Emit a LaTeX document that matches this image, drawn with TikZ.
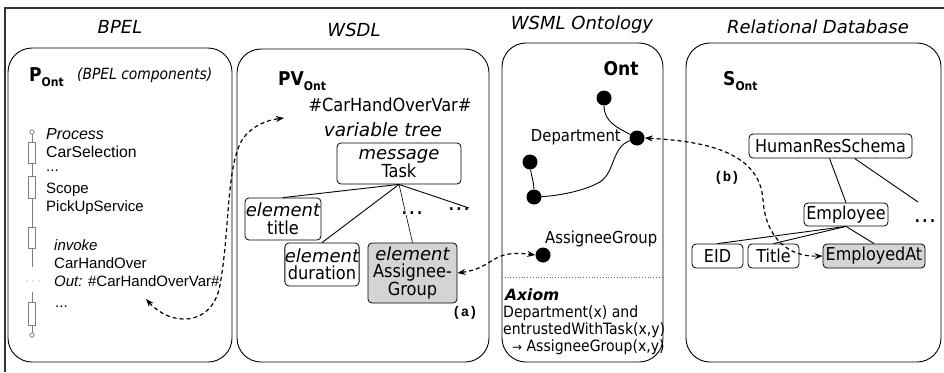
\documentclass[tikz,border=0pt]{standalone}
\usepackage{fontspec}
\setmainfont{DejaVu Sans Condensed}
\newfontfamily\widefont{DejaVu Sans}
\newfontfamily\arialfont{Liberation Sans}
\newfontfamily\codefont{Liberation Mono}
\usetikzlibrary{arrows.meta}
\newcommand\px[1]{\fontsize{#1}{#1}\selectfont}
\newcommand\pxl[2]{\fontsize{#1}{#2}\selectfont}
% italic type label inside a tree box
\newcommand\kind[1]{{\widefont\itshape\px{18}#1}}

\tikzset{
  panel/.style={draw, rounded corners=24pt, line width=0.9pt},
  header/.style={font=\widefont\itshape\px{18}},
  tbox/.style={draw, rounded corners=4pt, line width=0.8pt, inner sep=0pt,
    align=center, font=\pxl{18}{17.5}},
  gbox/.style={tbox, fill=black!17},
  rbox/.style={tbox, font=\px{17.8}},
  bpeltext/.style={anchor=west, inner sep=0pt, font=\arialfont\px{15}},
  ellip/.style={anchor=base west, inner sep=0pt, text height=2pt, text depth=0pt,
    font=\arialfont\px{15}},
  onttext/.style={inner sep=0pt, font=\px{16.5}},
  dotnode/.style={circle, fill=black, inner sep=0pt, minimum size=15pt},
  chain/.style={draw=black!50, line width=0.8pt},
  edge/.style={line width=0.9pt},
  link/.style={line width=1.2pt, dash pattern=on 4pt off 3pt,
    {Stealth[length=8pt,width=6pt]}-{Stealth[length=8pt,width=6pt]}},
  lbl/.style={inner sep=0pt, font=\codefont\bfseries\px{14}},
  sym/.style={anchor=base west, inner sep=0pt, font=\bfseries\px{19}}
}

\begin{document}
\begin{tikzpicture}[x=1pt, y=-1pt]
\useasboundingbox (0,0) rectangle (944,372);

% outer frame
\draw[line width=1.1pt, black!80] (5,372) -- (5,8) -- (944,8);

% column headers
\node[header] (hbpel) at (120,27) {BPEL};
\node[header] (hwsdl) at (354,30) {WSDL};
\node[header] (hwsml) at (582,25) {WSML Ontology};
\node[header] (hrdb)  at (818,27) {Relational Database};

% panels
\draw[panel] (8,48) rectangle (232,362);
\draw[panel] (237,49) rectangle (489,362);
\draw[panel] (502,43) rectangle (663,362);
\draw[panel] (686,43) rectangle (941,362);

% ---------- BPEL ----------
\node[sym] (pont) at (29,81) {P\raisebox{-0.3em}{\px{12}Ont}};
\node[anchor=west, inner sep=0pt, font=\itshape\px{15.4}] (pcomp) at (77,75) {(BPEL components)};

% process chain
\draw[chain] (32,134.2) -- (32,142);
\draw[chain] (28.5,142) rectangle (35.5,163);
\draw[chain] (32,163) -- (32,176);
\draw[chain] (28.5,176) rectangle (35.5,198);
\draw[chain] (32,198) -- (32,227);
\draw[chain] (28.5,227) rectangle (35.5,248);
\draw[chain] (32,248) -- (32,267);
\draw[chain] (32,292) -- (32,302);
\draw[chain] (28.5,302) rectangle (35.5,325);
\draw[chain] (32,325) -- (32,332.8);
\draw[chain] (32,132) circle (2.2);
\draw[chain] (32,335) circle (2.2);
\foreach \x in {27,33,39} \fill[black!50] (\x,281) circle (0.6);

\node[bpeltext, font=\arialfont\itshape\px{16}] (tproc) at (46,134) {Process};
\node[bpeltext, font=\arialfont\px{15.8}] (tcarsel) at (46,152) {CarSelection};
\node[ellip] (tdots1) at (46,171) {...};
\node[bpeltext] (tscope) at (46,190) {Scope};
\node[bpeltext] (tpick) at (46,208) {PickUpService};
\node[bpeltext, font=\arialfont\itshape\px{15}] (tinv) at (54,245) {invoke};
\node[bpeltext] (thand) at (54,263) {CarHandOver};
\node[bpeltext] (tout) at (54,281) {\textit{Out:} \#CarHandOverVar\#};
\node[ellip] (tdots2) at (55,307) {...};
\coordinate (bpelend) at (146,299);

% ---------- WSDL ----------
\node[sym] (pvont) at (278,85) {PV\raisebox{-0.3em}{\px{12}Ont}};
\node[inner sep=0pt, font=\px{18}] (varname) at (390,105) {\#CarHandOverVar\#};
\node[inner sep=0pt, font=\widefont\itshape\px{18.5}] (vartree) at (383,130) {variable tree};
\coordinate (wsdlend) at (284,118);

\node[tbox, minimum width=124pt, minimum height=41pt] (task) at (399,163.5) {\kind{message}\\Task};
\node[tbox, minimum width=76pt, minimum height=42pt] (etitle) at (283,219) {\kind{element}\\title};
\node[tbox, minimum width=72pt, minimum height=43pt] (edur) at (322,264.5) {\kind{element}\\duration};
\node[gbox, minimum width=89pt, minimum height=60pt] (eag) at (412.5,273) {\kind{element}\\Assignee-\\Group};
\coordinate (tmore) at (469,208);

\draw[edge] (task.south) -- (etitle.north);
\draw[edge] (task.south) -- (edur.north);
\draw[line width=0.6pt] (task.south) -- (eag.north);
\draw[edge] (task.south) -- (tmore);
\node[fill=white, inner sep=1pt, font=\bfseries\px{15}] (wdots1) at (412,213) {.\,.\,.};
\node[inner sep=0pt, font=\bfseries\px{15}] (wdots2) at (459,209) {.\,.\,.};
\node[lbl] (la) at (465,313) {(a)};

% ---------- WSML ontology ----------
\node[inner sep=0pt, font=\bfseries\px{19}] (onttitle) at (621,69) {Ont};
\node[dotnode] (d1) at (604,98) {};
\node[dotnode] (d2) at (637,138) {};
\node[dotnode] (d3) at (530,162) {};
\node[dotnode] (d4) at (534,197) {};
\node[dotnode] (d5) at (543,255) {};
\node[onttext, anchor=east] (tdept) at (621,137) {Department};
\node[onttext, anchor=west] (tag) at (545,239) {AssigneeGroup};

\draw[edge] (d1) .. controls (604,122) and (618,128) .. (d2);
\draw[edge] (d2) .. controls (610,148) and (616,176) .. (596,184)
                .. controls (580,192) and (555,196) .. (d4);
\draw[edge] (d3) .. controls (531,175) and (534,182) .. (d4);

\draw[black!60, line width=0.8pt, dotted] (502,277) -- (663,277);
\node[anchor=west, inner sep=0pt, font=\widefont\bfseries\itshape\px{15.5}] (axiom) at (505,295) {Axiom};
\node[anchor=north west, inner sep=0pt, align=left, font=\pxl{15.6}{17}] (axtext) at (503,305)
  {Department(x) and\\entrustedWithTask(x,y)\\\ \ {\widefont\px{12}→} AssigneeGroup(x,y)};

% ---------- Relational database ----------
\node[sym] (sont) at (723,85) {S\raisebox{-0.3em}{\px{12}Ont}};
\node[rbox, minimum width=163pt, minimum height=24pt] (hrs) at (830.5,146) {HumanResSchema};
\node[rbox, minimum width=84pt, minimum height=23pt] (emp) at (846,214.5) {Employee};
\node[rbox, minimum width=51pt, minimum height=24pt] (eid) at (717.5,256) {EID};
\node[rbox, minimum width=51pt, minimum height=24pt] (rtitle) at (773.5,256) {Title};
\node[rbox, fill=black!17, minimum width=102pt, minimum height=24pt] (empat) at (874,256) {EmployedAt};
\coordinate (rmore) at (918,202);
\node[inner sep=0pt, font=\bfseries\px{15}] (rdots) at (925,221) {.\,.\,.};

\draw[edge] ([xshift=-1pt]hrs.south) -- (emp.north);
\draw[edge] ([xshift=24pt]hrs.south) -- (rmore);
\draw[edge] (emp.south) -- (eid.north);
\draw[edge] (emp.south) -- (rtitle.north);
\draw[edge] (emp.south) -- (empat.north);
\node[lbl] (lb) at (727,178) {(b)};

% ---------- mapping links ----------
\draw[link] (bpelend) .. controls (170,326) and (212,328) .. (220,285)
            .. controls (230,230) and (226,168) .. (242,140)
            .. controls (252,125) and (268,120) .. (wsdlend);
\draw[link] (eag.east) .. controls (495,268) and (490,249) .. (d5.west);
\draw[link] (d2.east) .. controls (700,141) and (760,150) .. (763,200)
            .. controls (766,240) and (790,257) .. (empat.west);
\end{tikzpicture}
\end{document}
